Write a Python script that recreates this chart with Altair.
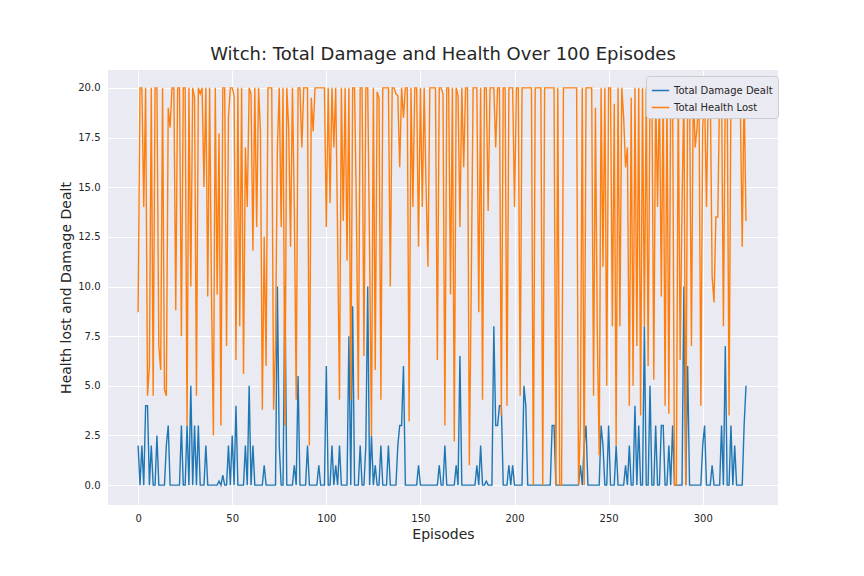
import altair as alt
import pandas as pd

damage = [
2,0,2,0,4,4,0,2,0,0,2.5,0,0,0,0,2,3,0,0,0,
0,0,0,3,0,0,3,0,5,0,3,0,3,0,0,0,2,0,0,0,
0,0,0,0.2,0,0.5,0,0,2,0,2.5,0,4,0,0,0,0,2,0,5,
0,2,0,0,0,0,0,1,0,0,0,0,0,0,10,2,0,0,10,0,
0,0,0,1,0,5.5,0,0,0,0,2,0,0,0,0,0,1,0,0,0,
6,0,0,2,0,1,0,2,0,0,0,0,7.5,0,9,0,0,0,2,0,
0,2,10,0,2.5,0,1,0,0,2,0,0,0,2,0,0,0,0,2,3,
3,6,0,0,0,0,0,0,0,1,0,0,0,0,0,0,0,0,0,0,
1,0,0,2,0,0,0,0,0,1,0,6.5,0,0,0,0,0,0,0,0,
1,0,2,0,0,0.2,0,0,0,8,3,3,4,4,0,0,0,1,0,1,
0,0,0,0,0,5,4,0,0,0,0,0,0,0,0,0,0,0,0,0,
3,3,0,0,0,0,0,0,0,0,0,0,0,0,0,1,0,2,3,0,
0,0,0,0,0,0,3,2,0,0,3,0,0,0,2,0,0,0,0,1,
0,2,0,0,4,0,3,0,0,8,0,0,5,0,0,3,0,0,3,3,
0,0,2,0,3,0,0,0,0,0,10,0,6,0,0,0,0,0,0,0,
2,3,0,0,0,1,0,0,0,0,3,0,7,0,0,3,0,2,0,0,0,0,3,5]

health = [
8.7,20,20,14,20,4.5,6,20,4.5,20,20,7,5.8,20,4.8,4.5,19,18,20,20,
8.8,20,20,7.5,20,20,3,20,10,20,19.5,4.5,20,19.7,20,15,20,9.5,20,9.5,
2.5,20,9.6,17.7,3,20,20,7,18.5,20,20,19.6,6.3,20,8,20,5.6,17,14,20,
19.7,11.8,20,13,20,17.8,3.8,12.5,6,20,20,20,3.8,7,17,20,13,20,3,20,
18,12,20,14,4.3,20,20,17,20,20,20,2,19.5,17.8,20,20,20,20,20,20,
13,20,14.2,20,17,20,12.6,4.3,20,13.3,20,11.3,20,4.3,20,20,13.8,4.3,20,20,
6.5,20,20,11.8,2.5,20,5.8,19.8,19.5,4.3,20,20,20,20,10,20,20,19.7,19.6,16,
20,18.5,20,20,3.2,20,14,20,20,12,20,14,20,15,11,20,20,20,20,6.3,
20,20,19.7,3,20,20,9.6,20,2.2,20,19.6,13,20,16,20,20,1,10,20,20,
20,8.7,20,4.3,20,20,13.8,20,20,20,17,20,20,3.5,20,20,4,20,20,20,
14,20,20,4.5,20,20,20,20,20,20,0,20,20,20,20,0,20,20,20,20,
20,20,0,20,0,0,20,20,20,20,20,20,20,20,0,3,20,0,20,20,
20,20,4.5,19,7.5,1.5,20,11,20,5,20,20,8,19.2,2,20,8,20,18.5,16,
17,4,19.5,5,20,7,20,3.5,20,8,20,6,20,20,5.3,20,14,20,9.5,20,
4,20,3.6,20,20,0,0,20,6.3,14,20,0,20,20,7,20,17,18,20,4,
18,19.5,14,20,20,10.5,9.2,13.5,13.5,20,20,8,20,20,3.5,20,20,20,20,20,19,12,20,13.3]

n = min(len(damage), len(health))
rows = []
for i in range(n):
    rows.append({"ep": i, "v": damage[i], "s": "Total Damage Dealt"})
for i in range(n):
    rows.append({"ep": i, "v": health[i], "s": "Total Health Lost"})
df = pd.DataFrame(rows)

chart = alt.Chart(df).mark_line(strokeWidth=1.4, clip=True).encode(
    x=alt.X("ep:Q", title="Episodes", scale=alt.Scale(domain=[-16, 340], nice=False, zero=False),
            axis=alt.Axis(values=[0, 50, 100, 150, 200, 250, 300])),
    y=alt.Y("v:Q", title="Health lost and Damage Dealt", scale=alt.Scale(domain=[-1.0, 20.9], nice=False),
            axis=alt.Axis(values=[0, 2.5, 5, 7.5, 10, 12.5, 15, 17.5, 20], format=".1f")),
    color=alt.Color("s:N", scale=alt.Scale(domain=["Total Damage Dealt", "Total Health Lost"],
                                          range=["#1f77b4", "#ff7f0e"]),
                    legend=alt.Legend(title=None, orient="none", legendX=538, legendY=6,
                                      fillColor="#EAEAF2", strokeColor="#cccccc", padding=5,
                                      symbolType="stroke", symbolSize=300, labelFontSize=10,
                                      labelFont="DejaVu Sans", labelColor="#262626",
                                      cornerRadius=3)),
).properties(
    width=670, height=435,
    background="white",
    title=alt.TitleParams("Witch: Total Damage and Health Over 100 Episodes", fontSize=18,
                          fontWeight="normal", font="DejaVu Sans", color="#262626", offset=6),
    autosize=alt.AutoSizeParams(type="none"),
    padding={"left": 100, "top": 62, "right": 78, "bottom": 55},
).configure_view(fill="#EAEAF2", stroke=None).configure_axis(
    grid=True, gridColor="white", gridWidth=1, gridOpacity=1, domain=False, ticks=False,
    labelFont="DejaVu Sans", labelFontSize=10, labelColor="#262626", labelPadding=8,
    titleFont="DejaVu Sans", titleFontSize=14, titleFontWeight="normal", titleColor="#262626",
)

chart.save("out.html", embed_options={"renderer": "svg", "actions": False})
